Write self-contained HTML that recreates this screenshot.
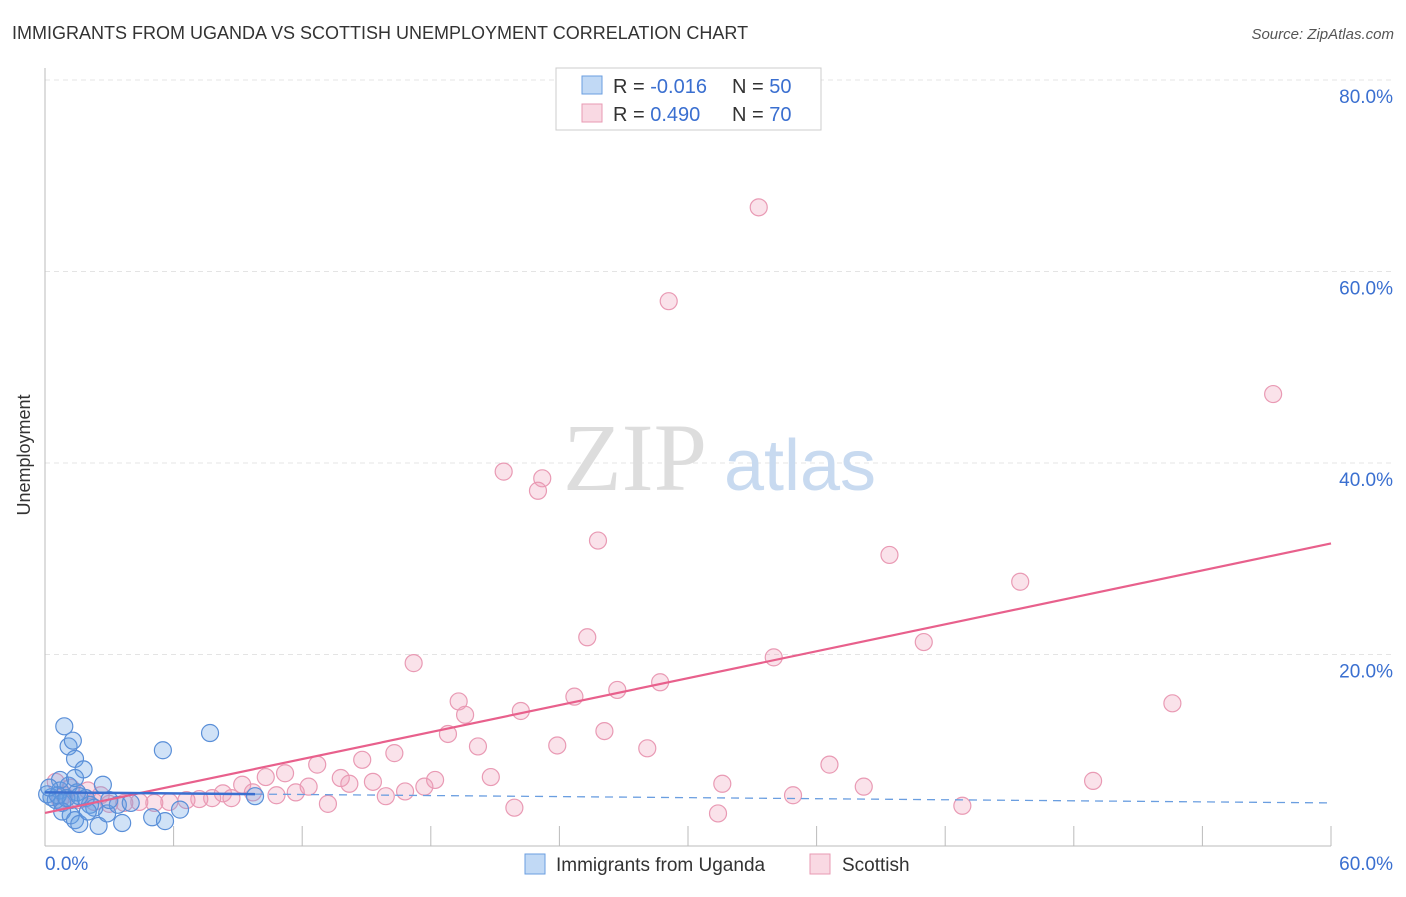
<!DOCTYPE html>
<html><head><meta charset="utf-8"><style>
body{margin:0;background:#fff;font-family:"Liberation Sans",sans-serif}
svg text{font-family:"Liberation Sans",sans-serif}
</style></head><body>
<svg width="1406" height="892" xmlns="http://www.w3.org/2000/svg">
<text x="12" y="39" font-size="18" fill="#333">IMMIGRANTS FROM UGANDA VS SCOTTISH UNEMPLOYMENT CORRELATION CHART</text>
<text x="1394" y="39" font-size="15" fill="#555" font-style="italic" text-anchor="end">Source: ZipAtlas.com</text>
<g id="grid"></g>
<text x="635" y="490" font-size="96" fill="#ddd" font-family="Liberation Serif" text-anchor="middle" style="font-family:'Liberation Serif',serif">ZIP</text>
<text x="800" y="490" font-size="72" fill="#c8daf0" text-anchor="middle">atlas</text>
<g id="axes"></g>
<g id="pts"></g>
<g id="lines"></g>
<text x="30" y="455" font-size="18" fill="#333" text-anchor="middle" transform="rotate(-90 30 455)">Unemployment</text>
<g>
<rect x="556" y="68" width="265" height="62" fill="#fff" stroke="#ccc"/>
<rect x="582" y="76" width="20" height="18" fill="rgba(100,160,230,0.4)" stroke="#6a9ee0"/>
<rect x="582" y="104" width="20" height="18" fill="rgba(240,160,185,0.4)" stroke="#e89ab3"/>
<text x="613" y="93" font-size="20" fill="#333">R = <tspan fill="#3a6fd0">-0.016</tspan></text>
<text x="732" y="93" font-size="20" fill="#333">N = <tspan fill="#3a6fd0">50</tspan></text>
<text x="613" y="121" font-size="20" fill="#333">R = <tspan fill="#3a6fd0"> 0.490</tspan></text>
<text x="732" y="121" font-size="20" fill="#333">N = <tspan fill="#3a6fd0">70</tspan></text>
</g>
<g>
<rect x="525" y="854" width="20" height="20" fill="rgba(100,160,230,0.4)" stroke="#6a9ee0"/>
<text x="556" y="871" font-size="19" fill="#333">Immigrants from Uganda</text>
<rect x="810" y="854" width="20" height="20" fill="rgba(240,160,185,0.4)" stroke="#e89ab3"/>
<text x="842" y="871" font-size="19" fill="#333">Scottish</text>
</g>
</svg>
<script>
const yTicks=[20,40,60,80];
const yTickLabels=["20.0%","40.0%","60.0%","80.0%"];
const xTickLabels=["0.0%","60.0%"];
const blueX=[0.9,1.1,1.3,1.4,1.8,5.5,7.7,2.7,9.8,0.7,0.3,0.1,0.5,0.8,1.1,1.2,1.5,1.9,2.1,0.8,1.2,1.4,1.6,2.5,3.6,5.0,5.6,6.3,2.9,3.4,4.0,0.7,1.4,2.3,0.6,1.0,3.0,0.2,2.0,1.6];
const blueY=[12.5,10.4,11.0,9.1,8.0,10.0,11.8,6.4,5.2,5.8,5.1,5.4,4.8,4.5,6.3,4.8,5.6,5.0,4.3,3.6,3.2,2.7,2.3,2.1,2.4,3.0,2.6,3.8,3.4,4.3,4.5,6.9,7.1,4.0,5.3,5.0,4.8,6.1,3.6,5.2];
const pinkX=[33.3,29.1,57.3,21.4,23.2,23.0,25.8,39.4,45.5,25.3,41.0,34.0,17.2,28.7,26.7,24.7,19.3,19.6,22.2,52.6,18.8,26.1,20.2,23.9,28.1,16.3,14.8,12.7,36.6,20.8,11.2,10.3,13.8,18.2,14.2,15.3,48.9,31.6,38.2,9.2,12.3,17.7,11.7,16.8,9.7,8.3,10.8,15.9,34.9,8.7,7.8,7.2,6.6,5.8,5.1,4.4,3.7,3.0,2.3,1.6,13.2,42.8,21.9,31.4,0.7,1.2,0.5,2.0,2.6,0.9];
const pinkY=[66.7,56.9,47.2,39.1,38.4,37.1,31.9,30.4,27.6,21.8,21.3,19.7,19.1,17.1,16.3,15.6,15.1,13.7,14.1,14.9,11.7,12.0,10.4,10.5,10.2,9.7,9.0,8.5,8.5,7.2,7.6,7.2,7.1,6.9,6.5,6.7,6.8,6.5,6.2,6.4,6.2,6.2,5.6,5.7,5.6,5.5,5.3,5.2,5.3,5.0,5.0,4.9,4.8,4.6,4.5,4.6,4.5,4.4,4.6,4.8,4.4,4.2,4.0,3.4,4.8,6.1,6.7,5.8,5.3,5.3];
const pinkTrend=[3.45,31.6];
const blueTrend=[5.6,4.5];
const X=v=>45+v*(1331-45)/60, Y=v=>846-v*(846-80)/80;
const NS="http://www.w3.org/2000/svg";
function mk(t,a,p){const e=document.createElementNS(NS,t);for(const k in a)e.setAttribute(k,a[k]);p.appendChild(e);return e;}
const grid=document.getElementById('grid'),axes=document.getElementById('axes'),pts=document.getElementById('pts'),lines=document.getElementById('lines');
yTicks.forEach((t,i)=>{
 const g=mk('line',{x1:45,x2:1393,y1:Y(t),y2:Y(t),stroke:'#e4e4e4','stroke-dasharray':'5,4'},grid);
 
 
 const l=mk('text',{x:1393,y:Y(t)+23,'font-size':19,fill:'#3a6fd0','text-anchor':'end'},axes);
 l.textContent=yTickLabels[i];
 
 
});
const ax=mk('line',{x1:45,x2:45,y1:68,y2:846,stroke:'#bbb'},axes);


const bx=mk('line',{x1:45,x2:1331,y1:846,y2:846,stroke:'#bbb'},axes);


for(let i=1;i<=10;i++){const tk=mk('line',{x1:X(i*6),x2:X(i*6),y1:826,y2:846,stroke:'#bbb'},axes);
 
 }
[[0,'start',45],[1,'end',1393]].forEach(([i,a,x])=>{const t=mk('text',{x:x,y:870,'font-size':19,fill:'#3a6fd0','text-anchor':a},axes);t.textContent=xTickLabels[i];
 
 });
pinkX.forEach((v,i)=>{const c=mk('circle',{cx:X(v),cy:Y(pinkY[i]),r:8.5,fill:'rgba(240,160,185,0.3)',stroke:'#e99ab4','stroke-width':1.2},pts);
 
 });
blueX.forEach((v,i)=>{const c=mk('circle',{cx:X(v),cy:Y(blueY[i]),r:8.5,fill:'rgba(100,160,230,0.3)',stroke:'#5a8fd8','stroke-width':1.2},pts);
 
 });
const pl=mk('line',{x1:X(0),y1:Y(pinkTrend[0]),x2:X(60),y2:Y(pinkTrend[1]),stroke:'#e8608c','stroke-width':2.2},lines);


const bs=9.8;const bm=blueTrend[0]+(blueTrend[1]-blueTrend[0])*bs/60;
const b1=mk('line',{x1:X(0),y1:Y(blueTrend[0]),x2:X(bs),y2:Y(bm),stroke:'#3a6fd0','stroke-width':2.5},lines);


const b2=mk('line',{x1:X(bs),y1:Y(bm),x2:X(60),y2:Y(blueTrend[1]),stroke:'#6a9ee0','stroke-width':1.3,'stroke-dasharray':'8,6'},lines);


</script>
</body></html>
